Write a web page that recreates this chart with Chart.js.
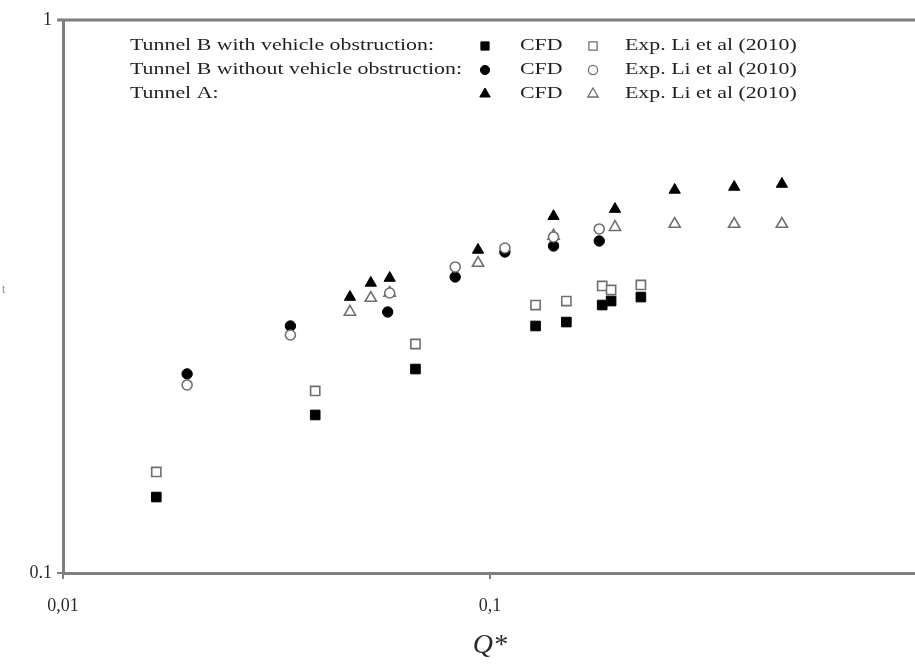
<!DOCTYPE html>
<html>
<head>
<meta charset="utf-8">
<title>Q* log-log</title>
<script src="https://cdn.jsdelivr.net/npm/chart.js@4/dist/chart.umd.min.js"></script>
<style>
  html, body { margin: 0; padding: 0; background: #fff; overflow: hidden; }
  #wrap { width: 925px; height: 664px; }
</style>
</head>
<body>
<div id="wrap"><canvas id="q-chart" width="925" height="664"></canvas></div>
<script>
// Tunnel B with vehicle obstruction
const vehQ = [0.01654, 0.03897, 0.06692, 0.1279, 0.1510, 0.1832, 0.1922, 0.2257];
const vehCfd = [0.1372, 0.1931, 0.2338, 0.2797, 0.2843, 0.3052, 0.3103, 0.3155];
const vehExp = [0.1523, 0.2134, 0.2595, 0.3052, 0.3103, 0.3304, 0.3249, 0.3318];

// Tunnel B without vehicle obstruction
const noVehCfdQ = [0.01953, 0.03409, 0.05761, 0.08291, 0.1084, 0.1409, 0.1803];
const noVehCfd = [0.2291, 0.2797, 0.2965, 0.3430, 0.3806, 0.3903, 0.3985];
const noVehExpQ = [0.01953, 0.03409, 0.05823, 0.08291, 0.1084, 0.1409, 0.1803];
const noVehExp = [0.2188, 0.2694, 0.3209, 0.3576, 0.3870, 0.4052, 0.4189];

// Tunnel A
const tunAQ = [0.04700, 0.05259, 0.05823, 0.09378, 0.1409, 0.1963, 0.2708, 0.3733, 0.4828];
const tunACfd = [0.3155, 0.3346, 0.3415, 0.3838, 0.4418, 0.4551, 0.4928, 0.4989, 0.5052];
const tunAExp = [0.2965, 0.3142, 0.3209, 0.3635, 0.4069, 0.4220, 0.4276, 0.4276, 0.4276];

const xTicks = [0.01, 0.1];
const xTickLabels = ['0,01', '0,1'];
const yTicks = [0.1, 1];
const yTickLabels = ['0.1', '1'];

const legendRows = [
    'Tunnel B with vehicle obstruction:',
    'Tunnel B without vehicle obstruction:',
    'Tunnel A:'
];
const cfdLabel = 'CFD';
const expLabel = 'Exp. Li et al (2010)';

const serif = '"Liberation Serif", "DejaVu Serif", serif';
const axisGray = '#7f7f7f';
const openGray = '#6f6f6f';
const textColor = '#1f1f1f';

function pts(xs, ys) {
    return xs.map((x, i) => ({ x: x, y: ys[i] }));
}

function filled(data, style, r) {
    return {
        data: data, pointStyle: style, pointRadius: r, pointHoverRadius: r,
        backgroundColor: '#000', borderColor: '#000', borderWidth: 1, showLine: false
    };
}
function open(data, style, r) {
    return {
        data: data, pointStyle: style, pointRadius: r, pointHoverRadius: r,
        backgroundColor: '#fff', borderColor: openGray, borderWidth: 1.6, showLine: false
    };
}

// top frame line + legend text block
const framePlugin = {
    id: 'frame',
    afterDraw: function (chart) {
        const ctx = chart.ctx, a = chart.chartArea;
        ctx.save();
        ctx.strokeStyle = axisGray;
        ctx.lineWidth = 3;
        ctx.beginPath();
        ctx.moveTo(a.left - 6, a.top);
        ctx.lineTo(chart.width, a.top);
        ctx.stroke();

        // legend
        ctx.font = '17px ' + serif;
        ctx.fillStyle = textColor;
        ctx.textBaseline = 'middle';
        const sx = 332 / ctx.measureText(legendRows[1]).width;
        const rowY = [46, 70, 94];
        const styles = ['rect', 'circle', 'triangle'];
        const radii = [5.8, 4.6, 6];
        const stretch = (txt, x, y) => {
            ctx.save();
            ctx.translate(x, y);
            ctx.scale(sx, 1);
            ctx.fillText(txt, 0, 0);
            ctx.restore();
        };
        legendRows.forEach((txt, i) => {
            const y = rowY[i];
            stretch(txt, 130, y);
            stretch(cfdLabel, 520, y);
            stretch(expLabel, 625, y);
            ctx.fillStyle = '#000';
            ctx.strokeStyle = '#000';
            ctx.lineWidth = 1;
            Chart.helpers.drawPoint(ctx, { pointStyle: styles[i], radius: radii[i], rotation: 0, borderWidth: 1 }, 485, y);
            ctx.fillStyle = '#fff';
            ctx.strokeStyle = openGray;
            ctx.lineWidth = 1.3;
            Chart.helpers.drawPoint(ctx, { pointStyle: styles[i], radius: radii[i], rotation: 0, borderWidth: 1.3 }, 593, y);
            ctx.fillStyle = textColor;
        });

        // clipped remnant of the y-axis title
        ctx.font = '12px ' + serif;
        ctx.fillStyle = '#8a8a8a';
        ctx.fillText('t', 2, 290);
        ctx.restore();
    }
};

const ctx = document.getElementById('q-chart');

new Chart(ctx, {
    type: 'scatter',
    data: {
        datasets: [
            open(pts(vehQ, vehExp), 'rect', 6.5),
            filled(pts(vehQ, vehCfd), 'rect', 6.8),
            open(pts(noVehExpQ, noVehExp), 'circle', 5),
            filled(pts(noVehCfdQ, noVehCfd), 'circle', 5.2),
            open(pts(tunAQ, tunAExp), 'triangle', 6.5),
            filled(pts(tunAQ, tunACfd), 'triangle', 6.5)
        ]
    },
    options: {
        responsive: false,
        animation: false,
        layout: { padding: { top: 20, right: 2, left: 0, bottom: 0 } },
        plugins: {
            legend: { display: false },
            tooltip: { enabled: false }
        },
        scales: {
            x: {
                type: 'logarithmic',
                min: 0.01,
                max: 1,
                afterFit: function (scale) { scale.height = 91; },
                afterBuildTicks: function (scale) {
                    scale.ticks = xTicks.map(v => ({ value: v }));
                },
                border: { color: axisGray, width: 3 },
                grid: { drawOnChartArea: false, tickLength: 6, color: axisGray, lineWidth: 2 },
                ticks: {
                    autoSkip: false,
                    maxRotation: 0,
                    padding: 16,
                    color: '#2a2a2a',
                    font: { family: serif, size: 18 },
                    callback: function (v) {
                        const i = xTicks.indexOf(v);
                        return i >= 0 ? xTickLabels[i] : '';
                    }
                },
                title: {
                    display: true,
                    text: 'Q*',
                    color: '#2a2a2a',
                    font: { family: serif, size: 28, style: 'italic' },
                    padding: { top: 0, bottom: 2 }
                }
            },
            y: {
                type: 'logarithmic',
                min: 0.1,
                max: 1,
                afterFit: function (scale) { scale.width = 63; },
                afterBuildTicks: function (scale) {
                    scale.ticks = yTicks.map(v => ({ value: v }));
                },
                border: { color: axisGray, width: 3 },
                grid: { drawOnChartArea: false, tickLength: 6, color: axisGray, lineWidth: 2 },
                ticks: {
                    autoSkip: false,
                    padding: 5,
                    color: '#2a2a2a',
                    font: { family: serif, size: 18 },
                    callback: function (v) {
                        const i = yTicks.indexOf(v);
                        return i >= 0 ? yTickLabels[i] : '';
                    }
                }
            }
        }
    },
    plugins: [framePlugin]
});
</script>
</body>
</html>
